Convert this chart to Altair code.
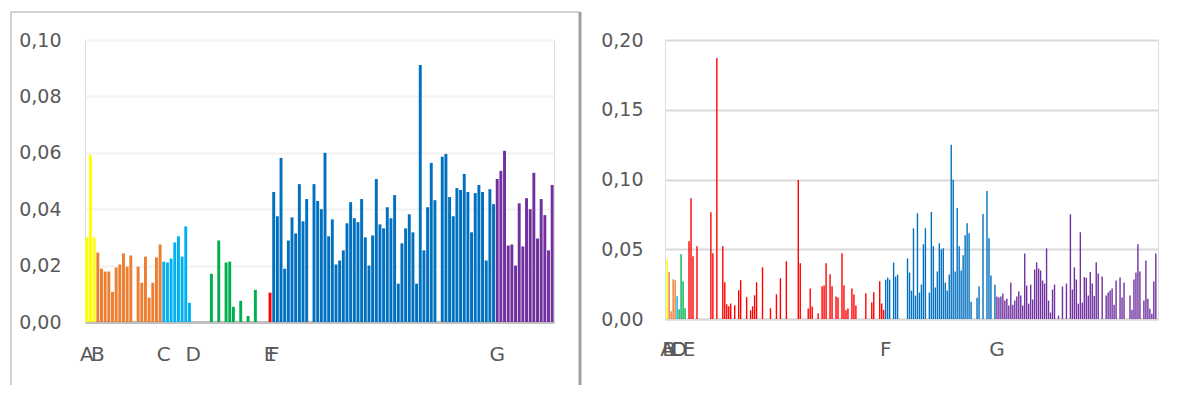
import altair as alt
import pandas as pd

GROUPS = ["A", "B", "C", "D", "E", "F", "G"]
COLORS = ["#FFFF00", "#ED7D31", "#00B0F0", "#00B050", "#FF0000", "#0070C0", "#7030A0"]

# ---------------- left panel values (one list per group) ----------------
left_A = [0.0300, 0.0592, 0.0300]
left_B = [0.0246, 0.0189, 0.0179, 0.0179, 0.0107, 0.0193, 0.0204, 0.0243, 0.0196,
          0.0236, 0.0, 0.0196, 0.0139, 0.0232, 0.0086, 0.0139, 0.0229, 0.0275]
left_C = [0.0214, 0.0211, 0.0225, 0.0282, 0.0304, 0.0232, 0.0339, 0.0068]
left_D = [0.0, 0.0, 0.0, 0.0, 0.0, 0.0171, 0.0, 0.0289, 0.0, 0.0211, 0.0214,
          0.0054, 0.0, 0.0075, 0.0, 0.0021, 0.0, 0.0114, 0.0, 0.0, 0.0]
left_E = [0.0104]
left_F = [0.0461, 0.0375, 0.0582, 0.0189, 0.0289, 0.0371, 0.0314, 0.0489, 0.0357, 0.0436,
          0.0, 0.0489, 0.0429, 0.0400, 0.0600, 0.0304, 0.0364, 0.0204, 0.0218, 0.0254,
          0.0350, 0.0425, 0.0368, 0.0354, 0.0436, 0.0300, 0.0200, 0.0307, 0.0507, 0.0346,
          0.0332, 0.0407, 0.0368, 0.0450, 0.0136, 0.0279, 0.0332, 0.0382, 0.0318, 0.0136,
          0.0911, 0.0254, 0.0407, 0.0564, 0.0432, 0.0, 0.0586, 0.0596, 0.0443, 0.0375,
          0.0475, 0.0468, 0.0525, 0.0461, 0.0318, 0.0457, 0.0486, 0.0461, 0.0218, 0.0471,
          0.0418]
left_G = [0.0507, 0.0536, 0.0607, 0.0271, 0.0275, 0.0200, 0.0421, 0.0268, 0.0439, 0.0400,
          0.0529, 0.0296, 0.0436, 0.0379, 0.0254, 0.0486]

# ---------------- right panel values (one list per group) ----------------
right_A = [0.0428]
right_B = [0.0337, 0.0055, 0.0285, 0.0278]
right_C = [0.0163]
right_D = [0.0069, 0.0464, 0.0270, 0.0077, 0.0]
right_E = [0.0557, 0.0866, 0.0450, 0.0, 0.0522, 0.0, 0.0, 0.0, 0.0, 0.0,
           0.0, 0.0766, 0.0471, 0.0, 0.1871, 0.0, 0.0, 0.0522, 0.0263, 0.0105,
           0.0091, 0.0112, 0.0, 0.0098, 0.0, 0.0206, 0.0278, 0.0, 0.0, 0.0156,
           0.0, 0.0062, 0.0091, 0.0170, 0.0263, 0.0, 0.0, 0.0371, 0.0, 0.0,
           0.0, 0.0077, 0.0, 0.0, 0.0177, 0.0, 0.0292, 0.0, 0.0, 0.0414,
           0.0, 0.0, 0.0, 0.0, 0.0, 0.0997, 0.0400, 0.0, 0.0, 0.0,
           0.0075, 0.0219, 0.0090, 0.0, 0.0, 0.0040, 0.0, 0.0234, 0.0241, 0.0400,
           0.0, 0.0320, 0.0234, 0.0, 0.0162, 0.0155, 0.0, 0.0472, 0.0241, 0.0062,
           0.0076, 0.0, 0.0219, 0.0176, 0.0097, 0.0, 0.0, 0.0, 0.0, 0.0184,
           0.0, 0.0, 0.0119, 0.0191, 0.0, 0.0, 0.0270, 0.0112, 0.0066]
right_F = [0.0282, 0.0297, 0.0282, 0.0, 0.0405, 0.0304, 0.0318, 0.0, 0.0, 0.0,
           0.0, 0.0434, 0.0333, 0.0203, 0.0650, 0.0167, 0.0758, 0.0189, 0.0247, 0.0536,
           0.0651, 0.0, 0.0189, 0.0767, 0.0522, 0.0226, 0.0341, 0.0543, 0.0500, 0.0507,
           0.0262, 0.0204, 0.0319, 0.1250, 0.0998, 0.0341, 0.0796, 0.0522, 0.0348, 0.0457,
           0.0600, 0.0687, 0.0615, 0.0124, 0.0, 0.0, 0.0153, 0.0233, 0.0, 0.0752,
           0.0, 0.0918, 0.0579, 0.0312, 0.0, 0.0246]
right_G = [0.0161, 0.0154, 0.0161, 0.0182, 0.0132, 0.0146, 0.0096, 0.0262, 0.0103, 0.0132,
           0.0161, 0.0197, 0.0168, 0.0096, 0.0470, 0.0240, 0.0110, 0.0247, 0.0139, 0.0355,
           0.0406, 0.0362, 0.0348, 0.0276, 0.0254, 0.0506, 0.0132, 0.0046, 0.0211, 0.0247,
           0.0, 0.0024, 0.0, 0.0233, 0.0, 0.0254, 0.0, 0.0751, 0.0211, 0.0370,
           0.0283, 0.0110, 0.0622, 0.0118, 0.0300, 0.0295, 0.0168, 0.0337, 0.0254, 0.0165,
           0.0406, 0.0326, 0.0, 0.0305, 0.0, 0.0168, 0.0190, 0.0204, 0.0218, 0.0103,
           0.0276, 0.0, 0.0298, 0.0154, 0.0262, 0.0, 0.0, 0.0168, 0.0067, 0.0283,
           0.0334, 0.0535, 0.0341, 0.0, 0.0132, 0.0420, 0.0146, 0.0074, 0.0038, 0.0269,
           0.0470]

left_series = [left_A, left_B, left_C, left_D, left_E, left_F, left_G]
right_series = [right_A, right_B, right_C, right_D, right_E, right_F, right_G]

left_ticks = [0.0, 0.02, 0.04, 0.06, 0.08, 0.10]
right_ticks = [0.0, 0.05, 0.10, 0.15, 0.20]


def build(series):
    rows, starts, i = [], [], 0
    for g, vals in zip(GROUPS, series):
        starts.append((i, g))
        for v in vals:
            rows.append({"idx": i, "group": g, "value": v})
            i += 1
    expr = " : ".join(f"datum.value == {s} ? '{g}'" for s, g in starts) + " : ''"
    return pd.DataFrame(rows), expr


left_df, left_expr = build(left_series)
right_df, right_expr = build(right_series)

YFMT = "replace(format(datum.value, '.2f'), '.', ',')"
LABEL = "#595959"
frame = pd.DataFrame({"k": [0]})
FRAME_C = "#A6A6A6"


def panel(df, expr, ticks, ymax, p_in, p_out, grid_c, dom_c, dom_w, lab_pad, extent, x_pad):
    return alt.Chart(df).mark_bar().encode(
        x=alt.X("idx:O", sort=None,
                scale=alt.Scale(paddingInner=p_in, paddingOuter=p_out, round=False),
                axis=alt.Axis(title=None, labelExpr=expr, labelAngle=0, ticks=False,
                              domain=True, domainColor=dom_c, domainWidth=dom_w,
                              labelFontSize=20, labelColor=LABEL, labelPadding=x_pad,
                              labelFont="DejaVu Sans", labelOverlap=False)),
        y=alt.Y("value:Q", scale=alt.Scale(domain=[0, ymax], nice=False),
                axis=alt.Axis(title=None, values=ticks, labelExpr=YFMT, grid=True,
                              gridColor=grid_c, gridWidth=2, domain=False, ticks=False,
                              labelPadding=lab_pad, labelFontSize=19, labelColor=LABEL,
                              labelFont="DejaVu Sans", minExtent=extent, maxExtent=extent)),
        color=alt.Color("group:N", scale=alt.Scale(domain=GROUPS, range=COLORS), legend=None),
    )


lb = panel(left_df, left_expr, left_ticks, 0.10, 0.2, 0.1,
           "#F2F2F2", "#BFBFBF", 3, 24, 76, 22)
rb = panel(right_df, right_expr, right_ticks, 0.20, 0.3, 0.75,
           "#D9D9D9", "#D9D9D9", 2, 22, 66, 20)

left_border = alt.Chart(frame).mark_rule(color=FRAME_C, strokeWidth=1).encode(
    x=alt.value(-74), y=alt.value(-28), y2=alt.value(345))
top_border = alt.Chart(frame).mark_rule(color=FRAME_C, strokeWidth=1).encode(
    x=alt.value(-74), x2=alt.value(495), y=alt.value(-28))
separator = alt.Chart(frame).mark_rule(color="#A0A0A0", strokeWidth=3).encode(
    x=alt.value(495), y=alt.value(-28), y2=alt.value(345))

left = alt.layer(lb, left_border, top_border, separator).properties(width=469, height=282)
right = alt.layer(rb).properties(width=493, height=279)

chart = alt.hconcat(left, right, spacing=16).properties(
    padding={"left": 0, "top": 2, "right": 0, "bottom": 0}
).configure_view(stroke=None).configure(background="white")

chart.save("out.html", embed_options={"renderer": "svg", "actions": False})
